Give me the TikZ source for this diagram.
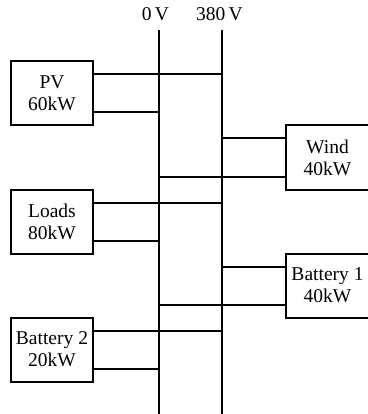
\documentclass[tikz,border=0pt]{standalone}
\usepackage{fontspec}
\setmainfont{Liberation Serif}
\begin{document}
\begin{tikzpicture}[x=1pt,y=-1pt,
  unitbox/.style={draw,line width=2pt,minimum width=82pt,minimum height=64pt,inner sep=0pt,align=center,font=\fontsize{19.5}{22}\selectfont},
  rightbox/.style={unitbox,minimum width=100pt},
  lbl/.style={anchor=base,inner sep=0pt,font=\fontsize{19.5}{22}\selectfont},
  wire/.style={line width=2pt}]
\useasboundingbox (0,0) rectangle (367,414);
\coordinate (zt) at (158.5,30);
\coordinate (zb) at (158.5,416);
\coordinate (ht) at (222,30);
\coordinate (hb) at (222,416);
\node[lbl] (l0) at (155.5,21) {0\,V};
\node[lbl] (l380) at (219.5,21) {380\,V};
\draw[wire] (zt) -- (zb);
\draw[wire] (ht) -- (hb);
\node[unitbox] (pv) at (52,93.5) {PV\\60kW};
\node[rightbox] (wind) at (336,157.5) {\hspace*{-17pt}Wind\\\hspace*{-17pt}40kW};
\node[unitbox] (loads) at (52,221.5) {Loads\\80kW};
\node[rightbox] (bat1) at (336,285.5) {\hspace*{-17pt}Battery 1\\\hspace*{-17pt}40kW};
\node[unitbox] (bat2) at (52,349.5) {Battery 2\\20kW};
\foreach \n in {pv,loads,bat2}{
  \draw[wire] ([yshift=19pt]\n.east) -- ([yshift=19pt]\n.east -| ht);
  \draw[wire] ([yshift=-19pt]\n.east) -- ([yshift=-19pt]\n.east -| zt);
}
\foreach \n in {wind,bat1}{
  \draw[wire] ([yshift=19pt]\n.west) -- ([yshift=19pt]\n.west -| ht);
  \draw[wire] ([yshift=-19pt]\n.west) -- ([yshift=-19pt]\n.west -| zt);
}
\end{tikzpicture}
\end{document}
